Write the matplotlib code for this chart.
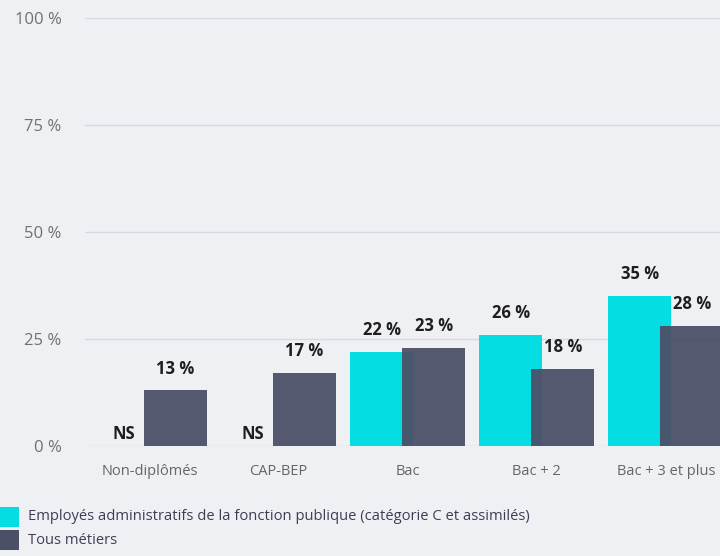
import numpy as np
import matplotlib
matplotlib.use("Agg")
import matplotlib.pyplot as plt
from matplotlib.patches import Rectangle

categories = ["Non-diplômés", "CAP-BEP", "Bac", "Bac + 2", "Bac + 3 et plus"]
emp_admin = [None, None, 22, 26, 35]   # None = NS
tous = [13, 17, 23, 18, 28]
series_names = ["Employés administratifs de la fonction publique (catégorie C et assimilés)",
                "Tous métiers"]
yticks = [0, 25, 50, 75, 100]

BG = "#eef0f3"
CYAN = "#04dde2"
DARK = "#4b4f67"
GRID = "#d3dae3"
TXT = "#1e1e1e"

plt.rcParams["font.family"] = ["Open Sans", "DejaVu Sans"]

fig = plt.figure(figsize=(7.2, 5.56), dpi=100)
fig.patch.set_facecolor(BG)
ax = fig.add_axes([85/720, 110/556, 1 - 85/720, (446 - 18)/556])
ax.set_facecolor(BG)

x = np.arange(len(categories))
w = 63/129
off = 26/129

for i, v in enumerate(emp_admin):
    if v is None:
        ax.text(x[i] - off, 0.8, "NS", ha="center", va="bottom",
                fontsize=12, fontweight="bold", color=TXT)
    else:
        ax.bar(x[i] - off, v, w, color=CYAN, zorder=2)
        ax.text(x[i] - off, v + 3.0, f"{v} %", ha="center", va="bottom",
                fontsize=12, fontweight="bold", color=TXT)

for i, v in enumerate(tous):
    ax.bar(x[i] + off, v, w, color=DARK, alpha=0.94, zorder=3)
    ax.text(x[i] + off, v + 3.0, f"{v} %", ha="center", va="bottom",
            fontsize=12, fontweight="bold", color=TXT, zorder=4)

ax.set_xlim(-0.5, 4.42)
ax.set_ylim(0, 100)
ax.set_yticks(yticks)
ax.set_yticklabels([f"{t} %" for t in yticks], fontsize=12, color="#707070")
ax.set_xticks(x)
ax.set_xticklabels(categories, fontsize=10.5, color="#666666")
ax.tick_params(axis="y", length=0, pad=17)
ax.tick_params(axis="x", length=0, pad=13)
for sp in ax.spines.values():
    sp.set_visible(False)
ax.grid(axis="y", color=GRID, lw=1, zorder=0)
ax.set_axisbelow(True)

# legend
for k, (name, col) in enumerate(zip(series_names, [CYAN, DARK])):
    y0 = 1 - (527 + k*23)/556
    fig.patches.append(Rectangle((0, y0), 19/720, 20/556, transform=fig.transFigure,
                                 facecolor=col, edgecolor="none"))
    fig.text(28/720, y0 + 10/556, name, fontsize=10.6, color="#3a3f55", va="center")

plt.savefig("out.png", dpi=100, facecolor=BG)
